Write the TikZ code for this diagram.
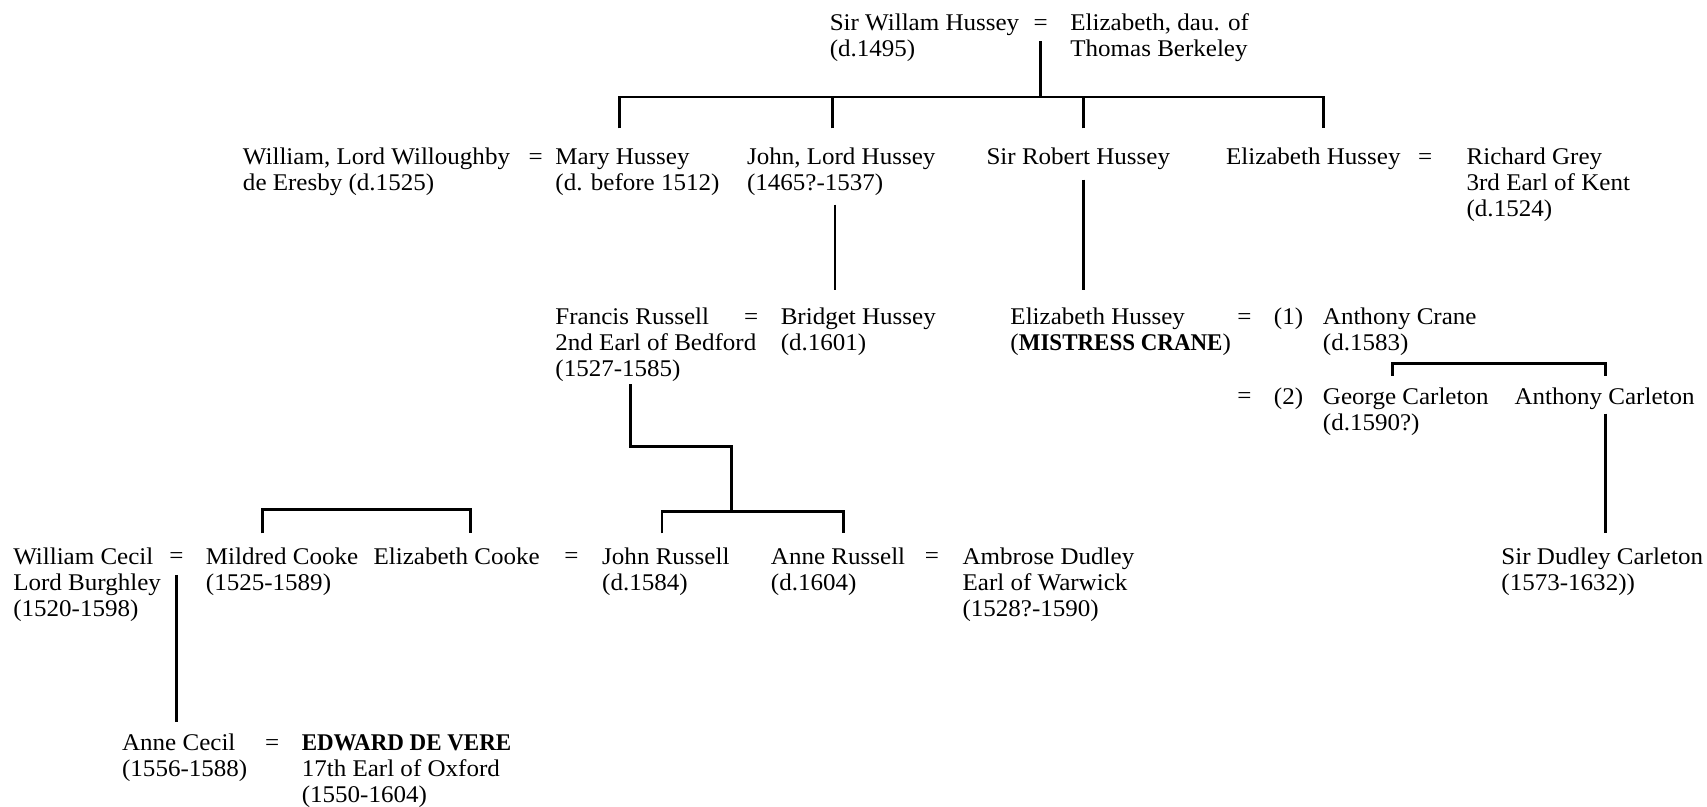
\documentclass[tikz,border=0pt]{standalone}
\usepackage{fontspec}
\setmainfont{Liberation Serif}[FakeStretch=1.045, BoldFeatures={FakeStretch=0.96}]
\begin{document}
\begin{tikzpicture}[x=1pt,y=-1pt,
 person/.style={anchor=north west, inner sep=0pt, align=left, yshift=16.8pt, font=\fontsize{22}{24}\selectfont},
 eqs/.style={anchor=base, inner sep=0pt, font=\fontsize{22}{24}\selectfont},
 link/.style={line width=2.5pt, line join=miter}]
\useasboundingbox (0,0) rectangle (1568,741);
% Row 1
\node[person] (hussey) at (762,28) {\strut Sir Willam Hussey\\\strut (d.1495)};
\node[eqs] (eq1) at (956,28) {=};
\node[person] (berkeley) at (983,28) {\strut Elizabeth, dau. of\\\strut Thomas Berkeley};
% Row 2
\node[person] (willoughby) at (223,151) {\strut William, Lord Willoughby\\\strut de Eresby (d.1525)};
\node[eqs] (eq2) at (492,151) {=};
\node[person] (mary) at (510,151) {\strut Mary Hussey\\\strut (d. before 1512)};
\node[person] (john) at (686,151) {\strut John, Lord Hussey\\\strut (1465?-1537)};
\node[person] (robert) at (906,151) {\strut Sir Robert Hussey};
\node[person] (elizh) at (1126,151) {\strut Elizabeth Hussey};
\node[eqs] (eq3) at (1309,151) {=};
\node[person] (grey) at (1347,151) {\strut Richard Grey\\\strut 3rd Earl of Kent\\\strut (d.1524)};
% Row 3
\node[person] (francis) at (510,298) {\strut Francis Russell\\\strut 2nd Earl of Bedford\\\strut (1527-1585)};
\node[eqs] (eq4) at (690,298) {=};
\node[person] (bridget) at (717,298) {\strut Bridget Hussey\\\strut (d.1601)};
\node[person] (crane) at (928,298) {\strut Elizabeth Hussey\\\strut (\textbf{MISTRESS CRANE})};
\node[eqs] (eq5) at (1143,298) {=};
\node[person] (m1) at (1170,298) {\strut (1)};
\node[person] (acrane) at (1215,298) {\strut Anthony Crane\\\strut (d.1583)};
\node[eqs] (eq6) at (1143,371) {=};
\node[person] (m2) at (1170,371) {\strut (2)};
\node[person] (george) at (1215,371) {\strut George Carleton\\\strut (d.1590?)};
\node[person] (acarl) at (1391,371) {\strut Anthony Carleton};
% Row 4
\node[person] (cecil) at (12,518) {\strut William Cecil\\\strut Lord Burghley\\\strut (1520-1598)};
\node[eqs] (eq7) at (162,518) {=};
\node[person] (mildred) at (189,518) {\strut Mildred Cooke\\\strut (1525-1589)};
\node[person] (elizc) at (343,518) {\strut Elizabeth Cooke};
\node[eqs] (eq8) at (525,518) {=};
\node[person] (johnr) at (553,518) {\strut John Russell\\\strut (d.1584)};
\node[person] (anne) at (708,518) {\strut Anne Russell\\\strut (d.1604)};
\node[eqs] (eq9) at (856,518) {=};
\node[person] (ambrose) at (884,518) {\strut Ambrose Dudley\\\strut Earl of Warwick\\\strut (1528?-1590)};
\node[person] (dudley) at (1379,518) {\strut Sir Dudley Carleton\\\strut (1573-1632))};
% Row 5
\node[person] (annec) at (112,689) {\strut Anne Cecil\\\strut (1556-1588)};
\node[eqs] (eq10) at (250,689) {=};
\node[person] (edward) at (277,689) {\strut\textbf{EDWARD DE VERE}\\\strut 17th Earl of Oxford\\\strut (1550-1604)};
% junction coordinates
\coordinate (h1) at (956,38);
\coordinate (h1b) at (956,89);
\coordinate (c1) at (569,118);
\coordinate (c2) at (765,118);
\coordinate (c3) at (995,118);
\coordinate (c4) at (1216,118);
\coordinate (j1) at (767,188);
\coordinate (j1b) at (767,266);
\coordinate (r1) at (995,165);
\coordinate (r1b) at (995,266);
\coordinate (f1) at (579,353);
\coordinate (f2) at (672,410);
\coordinate (f3) at (672,470);
\coordinate (k1) at (608,490);
\coordinate (k2) at (775,490);
\coordinate (b1) at (241,490);
\coordinate (b2) at (432,490);
\coordinate (cr1) at (1279,345);
\coordinate (cr2) at (1475,345);
\coordinate (ac1) at (1475,380);
\coordinate (ac2) at (1475,490);
\coordinate (ce1) at (162,528);
\coordinate (ce2) at (162,663);
% connectors
\draw[link] (h1) -- (h1b);
\draw[link] (c1) -- (c1 |- h1b) -| (c4);
\draw[link] (c2) -- (c2 |- h1b);
\draw[link] (c3) -- (c3 |- h1b);
\draw[link] (j1) -- (j1b);
\draw[link] (r1) -- (r1b);
\draw[link] (f1) |- (f2) -- (f3);
\draw[link] (k1) -- (k1 |- f3) -| (k2);
\draw[link] (b1) -- ++(0,-22) -| (b2);
\draw[link] (cr1) -- ++(0,-11) -| (cr2);
\draw[link] (ac1) -- (ac2);
\draw[link] (ce1) -- (ce2);
\end{tikzpicture}
\end{document}
